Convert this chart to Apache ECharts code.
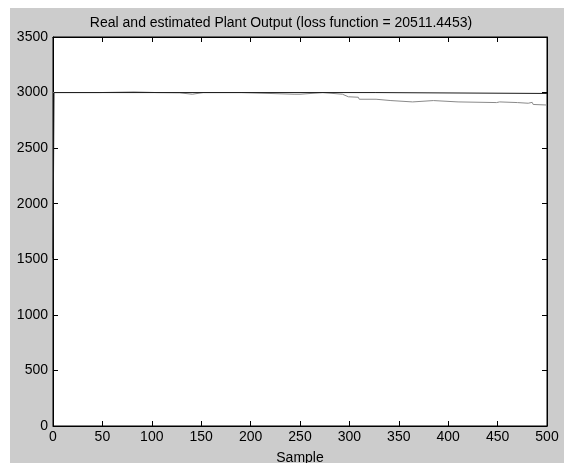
<!DOCTYPE html>
<html>
<head>
<meta charset="utf-8">
<script src="https://cdn.jsdelivr.net/npm/echarts@6/dist/echarts.min.js"></script>
<style>
html,body{margin:0;padding:0;background:#fff;}
#c{width:564px;height:463px;}
</style>
</head>
<body>
<div id="c"></div>
<script>
var titleText = 'Real and estimated Plant Output (loss function = 20511.4453)';
var xAxisName = 'Sample';
var xTicks = [0, 50, 100, 150, 200, 250, 300, 350, 400, 450, 500];
var yTicks = [0, 500, 1000, 1500, 2000, 2500, 3000, 3500];

var realSamples = [0, 1, 326, 327, 500];
var realValues  = [1510, 3000, 3000, 2992, 2992];

var estSamples = [0, 1, 2, 3, 47, 48, 82, 83, 105, 106, 128, 129, 141, 142, 152, 153, 191, 192, 244, 245, 250, 251, 273, 274, 293, 299, 300, 309, 310, 327, 328, 342, 343, 364, 365, 385, 386, 410, 411, 449, 452, 470, 471, 481, 485, 486, 500];
var estValues  = [3000, 2994, 3016, 3000, 3000, 3006, 3006, 3000, 3000, 2998, 2998, 2985, 2985, 3000, 3000, 3000, 3000, 2985, 2985, 2985, 2985, 3000, 3000, 2985, 2985, 2962, 2958, 2958, 2940, 2940, 2928, 2928, 2916, 2916, 2910, 2928, 2916, 2916, 2910, 2910, 2916, 2910, 2904, 2904, 2912, 2893, 2888];

function pairs(xs, ys){ return xs.map(function(x,i){ return [x, ys[i]]; }); }
function plain(v){ return String(v); }

var chart = echarts.init(document.getElementById('c'), null, {renderer:'canvas'});
var font = 'Liberation Sans, Arial, sans-serif';
function axisLine(){ return {show:true, onZero:false, lineStyle:{color:'#000', width:1}}; }
function axisTick(){ return {show:true, inside:true, length:5, lineStyle:{color:'#000', width:1}}; }
chart.setOption({
  animation:false,
  backgroundColor:'transparent',
  graphic:[{type:'rect', z:-10, shape:{x:10, y:8, width:554, height:455}, style:{fill:'#cccccc'}}],
  title:{text:titleText, left:276, top:11, textAlign:'center',
    textStyle:{fontFamily:font, fontSize:14, fontWeight:'normal', color:'#000'}},
  grid:{left:53, right:17, top:37, bottom:37, containLabel:false, outerBoundsMode:'none',
    show:true, backgroundColor:'#fff', borderColor:'#000', borderWidth:1},
  xAxis:[
    {type:'value', min:xTicks[0], max:xTicks[xTicks.length-1], interval:50, position:'bottom',
      name:xAxisName, nameLocation:'middle', nameGap:25,
      nameTextStyle:{fontFamily:font, fontSize:14, color:'#000'},
      axisLine:axisLine(), axisTick:axisTick(), splitLine:{show:false},
      axisLabel:{fontFamily:font, fontSize:14, color:'#000', margin:4, formatter:plain}},
    {type:'value', min:xTicks[0], max:xTicks[xTicks.length-1], interval:50, position:'top',
      axisLine:axisLine(), axisTick:axisTick(), splitLine:{show:false}, axisLabel:{show:false}}
  ],
  yAxis:[
    {type:'value', min:yTicks[0], max:yTicks[yTicks.length-1], interval:500, position:'left',
      axisLine:axisLine(), axisTick:axisTick(), splitLine:{show:false},
      axisLabel:{fontFamily:font, fontSize:14, color:'#000', margin:5, formatter:plain}},
    {type:'value', min:yTicks[0], max:yTicks[yTicks.length-1], interval:500, position:'right',
      axisLine:axisLine(), axisTick:axisTick(), splitLine:{show:false}, axisLabel:{show:false}}
  ],
  series:[
    {type:'line', name:'Estimated', data:pairs(estSamples, estValues), showSymbol:false, z:2,
      lineStyle:{color:'#8a8a8a', width:1}},
    {type:'line', name:'Real', data:pairs(realSamples, realValues), showSymbol:false, z:3,
      lineStyle:{color:'#1a1a1a', width:1}}
  ]
});
</script>
</body>
</html>
